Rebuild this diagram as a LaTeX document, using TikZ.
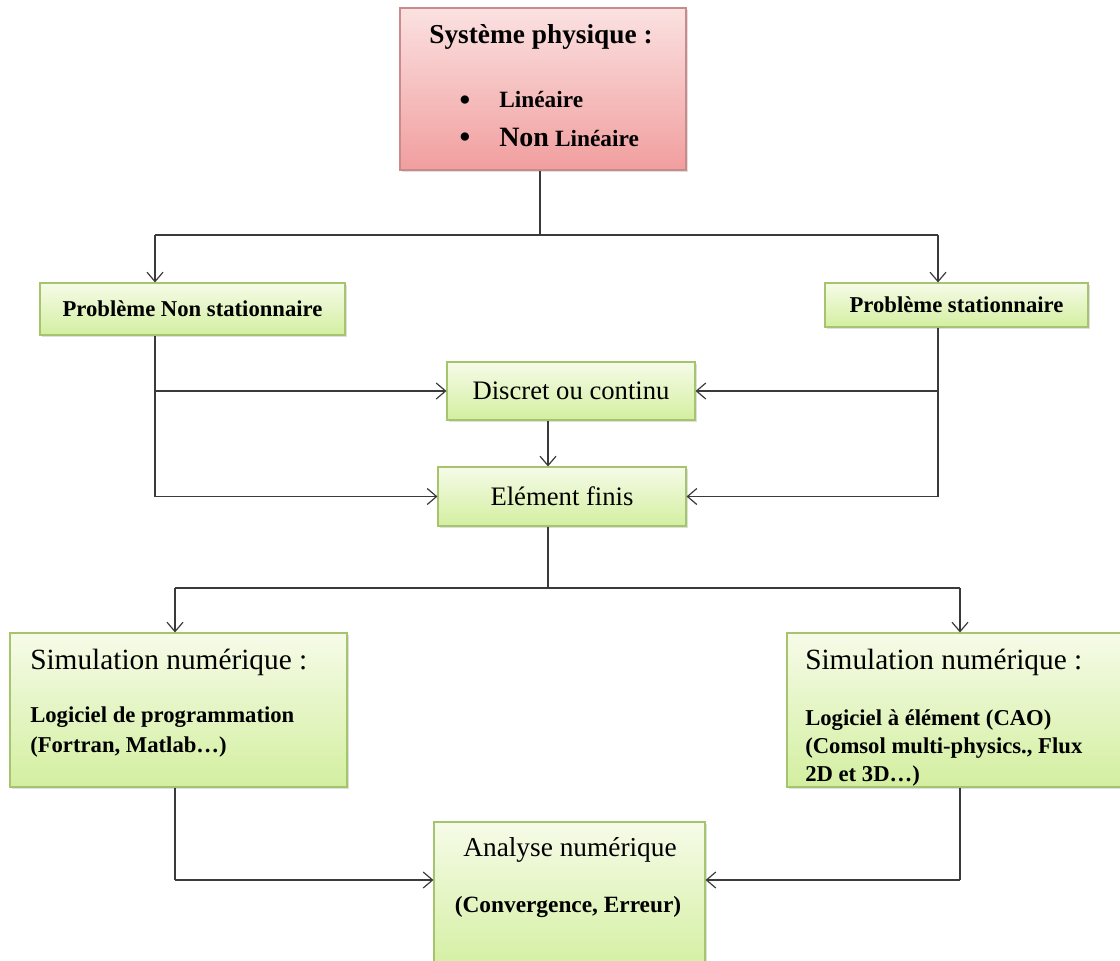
\documentclass[tikz,border=0pt]{standalone}
\usepackage{fontspec}
\setmainfont{Liberation Serif}
\usetikzlibrary{arrows.meta,shadows}
\definecolor{gborder}{HTML}{A6C46E}
\definecolor{gtop}{HTML}{F6FBE8}
\definecolor{gbot}{HTML}{D3EFA0}
\definecolor{pborder}{HTML}{C88A8A}
\definecolor{ptop}{HTML}{FBE1E1}
\definecolor{pbot}{HTML}{F19E9E}
\definecolor{lin}{HTML}{3A3A3A}
\newcommand{\fs}[1]{\fontsize{#1}{#1}\selectfont}
\tikzset{
  gbox/.style={draw=gborder, line width=0.8pt, top color=gtop, bottom color=gbot, inner sep=0pt,
    drop shadow={shadow xshift=1.2pt, shadow yshift=-1.2pt, opacity=0.25}},
  pbox/.style={draw=pborder, line width=0.8pt, top color=ptop, bottom color=pbot, inner sep=0pt,
    drop shadow={shadow xshift=1.2pt, shadow yshift=-1.2pt, opacity=0.25}},
  txt/.style={inner sep=0pt, text=black},
  conn/.style={draw=lin, line width=0.9pt},
  arr/.style={conn, -{Straight Barb[length=7pt,width=12pt,line width=0.9pt]}},
}
\begin{document}
\begin{tikzpicture}[x=0.75pt,y=-0.75pt]
\useasboundingbox (0,0) rectangle (1120,960);
% boxes
\node[pbox, minimum width=286*0.75pt, minimum height=162*0.75pt] (sys) at (543,89) {};
\node[gbox, minimum width=305*0.75pt, minimum height=52*0.75pt] (pns) at (192.5,309) {};
\node[gbox, minimum width=263*0.75pt, minimum height=44*0.75pt] (ps) at (956.5,305) {};
\node[gbox, minimum width=248*0.75pt, minimum height=58*0.75pt] (dis) at (571,391) {};
\node[gbox, minimum width=248*0.75pt, minimum height=59*0.75pt] (ef) at (562,496.5) {};
\node[gbox, minimum width=337*0.75pt, minimum height=154*0.75pt] (siml) at (178.5,710) {};
\node[gbox, minimum width=340*0.75pt, minimum height=154*0.75pt] (simr) at (957,710) {};
\node[gbox, minimum width=271*0.75pt, minimum height=150*0.75pt] (ana) at (569.5,897) {};
% texts
\node[txt, font=\fs{20.5}\bfseries] (t1) at (541,37) {Système physique :};
\node[txt] (b1) at (465,104) {\fs{26}\textbullet};
\node[txt] (b2) at (465,141) {\fs{26}\textbullet};
\node[txt, anchor=west, font=\fs{17.5}\bfseries] (t2) at (499,100) {Linéaire};
\node[txt, anchor=west, font=\bfseries] (t3) at (499,137) {{\fs{21}Non}\hspace{2pt} {\fs{17.5}Linéaire}};
\node[txt, font=\fs{17}\bfseries] (t4) at (pns) {Problème Non stationnaire};
\node[txt, font=\fs{17}\bfseries] (t5) at (ps) {Problème stationnaire};
\node[txt, font=\fs{20}] (t6) at (dis) {Discret ou continu};
\node[txt, font=\fs{20}] (t7) at (ef) {Elément finis};
\node[txt, anchor=west, font=\fs{22}] (t8) at (30,662) {Simulation numérique :};
\node[txt, anchor=north west, align=left, font=\fs{17}\bfseries] (t9) at (30,706) {Logiciel de programmation\\[6pt](Fortran, Matlab\dots)};
\node[txt, anchor=west, font=\fs{22}] (t10) at (805,662) {Simulation numérique :};
\node[txt, anchor=north west, align=left, font=\fs{17}\bfseries] (t11) at (805,709) {Logiciel à élément (CAO)\\[4pt](Comsol multi-physics., Flux\\[4pt]2D et 3D\dots)};
\node[txt, font=\fs{20.5}] (t12) at (570,850) {Analyse numérique};
\node[txt, font=\fs{17.5}\bfseries] (t13) at (568,907) {(Convergence, Erreur)};
% coordinates
\coordinate (j1) at (540,235);
\coordinate (l1) at (155,235);
\coordinate (r1) at (938,235);
\coordinate (j2) at (548,588);
\coordinate (l2) at (175,588);
\coordinate (r2) at (960,588);
% connectors
\draw[conn] (sys.south -| j1) -- (j1);
\draw[conn] (l1) -- (r1);
\draw[arr] (l1) -- (pns.north -| l1);
\draw[arr] (r1) -- (ps.north -| r1);
\draw[conn] (pns.south -| l1) -- (l1 |- ef.west);
\draw[conn] (ps.south -| r1) -- (r1 |- ef.east);
\draw[arr] (l1 |- dis.west) -- (dis.west);
\draw[arr] (l1 |- ef.west) -- (ef.west);
\draw[arr] (r1 |- dis.east) -- (dis.east);
\draw[arr] (r1 |- ef.east) -- (ef.east);
\draw[arr] (dis.south -| j2) -- (ef.north -| j2);
\draw[conn] (ef.south -| j2) -- (j2);
\draw[conn] (l2) -- (r2);
\draw[arr] (l2) -- (siml.north -| l2);
\draw[arr] (r2) -- (simr.north -| r2);
\coordinate (l3) at (175,880);
\coordinate (r3) at (960,880);
\draw[conn] (siml.south -| l3) -- (l3);
\draw[arr] (l3) -- (l3 -| ana.west);
\draw[conn] (simr.south -| r3) -- (r3);
\draw[arr] (r3) -- (r3 -| ana.east);
\end{tikzpicture}
\end{document}
